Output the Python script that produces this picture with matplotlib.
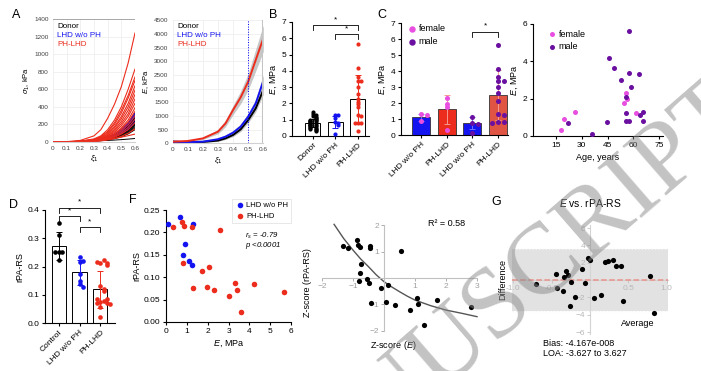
import matplotlib

matplotlib.use("Agg")
import matplotlib.pyplot as plt
import numpy as np

plt.rcParams["font.family"] = ["Liberation Sans", "DejaVu Sans"]
plt.rcParams["mathtext.fontset"] = "custom"
plt.rcParams["mathtext.rm"] = "Liberation Sans"
plt.rcParams["mathtext.it"] = "Liberation Sans:italic"
plt.rcParams["mathtext.bf"] = "Liberation Sans:bold"

W, H = 701, 371

BLUE = "#1414f0"
RED = "#ec2c1c"
PINK = "#e84ee0"
PURPLE = "#6a0fa0"

# ---- panel A: stress / modulus vs strain ----
STRAIN = [0, 0.1, 0.2, 0.3, 0.35, 0.4, 0.45, 0.5, 0.55, 0.6]
STRESS_RED = [
    [0, 4, 18, 70, 140, 270, 430, 630, 900, 1240],
    [0, 2, 10, 35, 70, 140, 250, 400, 600, 830],
    [0, 2, 8, 30, 60, 120, 220, 360, 530, 740],
    [0, 2, 8, 28, 55, 110, 200, 330, 500, 700],
    [0, 2, 7, 25, 48, 95, 175, 290, 440, 640],
    [0, 2, 6, 22, 42, 85, 160, 265, 400, 590],
    [0, 1, 6, 20, 38, 75, 140, 235, 360, 540],
    [0, 1, 5, 18, 34, 68, 125, 210, 320, 490],
    [0, 1, 5, 16, 30, 60, 110, 185, 290, 440],
    [0, 1, 4, 14, 27, 52, 95, 160, 250, 390],
    [0, 1, 4, 13, 24, 46, 85, 145, 225, 350],
    [0, 1, 3, 11, 20, 40, 72, 125, 195, 300],
    [0, 1, 3, 10, 18, 34, 62, 105, 165, 260],
    [0, 1, 3, 9, 16, 30, 52, 90, 140, 220],
    [0, 1, 3, 8, 13, 24, 40, 65, 100, 150],
    [0, 2, 6, 14, 20, 28, 40, 55, 72, 90],
]
STRESS_BLACK = [
    [0, 2, 8, 22, 35, 56, 90, 140, 215, 330],
    [0, 2, 8, 21, 33, 53, 85, 132, 202, 310],
    [0, 2, 7, 20, 32, 51, 82, 128, 195, 300],
    [0, 2, 7, 19, 31, 49, 79, 124, 189, 290],
    [0, 2, 7, 19, 30, 48, 77, 120, 182, 280],
    [0, 2, 7, 18, 29, 46, 74, 116, 176, 270],
    [0, 2, 7, 18, 28, 44, 71, 111, 169, 260],
    [0, 2, 6, 17, 27, 43, 69, 107, 163, 250],
    [0, 2, 6, 17, 26, 41, 66, 103, 157, 240],
    [0, 2, 6, 16, 25, 39, 63, 98, 150, 230],
    [0, 2, 6, 15, 24, 37, 60, 94, 144, 220],
    [0, 2, 6, 15, 23, 36, 57, 90, 137, 210],
    [0, 2, 6, 14, 22, 34, 55, 86, 131, 200],
    [0, 2, 5, 14, 21, 33, 52, 82, 125, 190],
    [0, 2, 5, 13, 19, 30, 48, 75, 115, 175],
    [0, 2, 5, 12, 18, 28, 44, 69, 105, 160],
    [0, 2, 5, 11, 16, 25, 38, 60, 92, 140],
    [0, 3, 7, 12, 15, 18, 22, 27, 33, 40],
]
STRESS_BLUE = [
    [0, 2, 8, 22, 36, 58, 92, 142, 218, 330],
    [0, 2, 8, 21, 34, 55, 87, 134, 205, 310],
    [0, 2, 7, 20, 32, 51, 81, 125, 192, 290],
    [0, 2, 7, 18, 28, 45, 71, 110, 167, 250],
    [0, 2, 6, 16, 25, 40, 63, 97, 147, 220],
]
MOD_RED = [60, 85, 180, 427, 730, 1220, 1680, 2256, 3050, 3840]
MOD_RED_HW = [20, 20, 40, 80, 120, 170, 230, 300, 400, 480]
MOD_BLUE = [60, 40, 60, 150, 245, 390, 610, 975, 1460, 2280]
MOD_BLUE_HW = [15, 15, 20, 40, 60, 80, 100, 130, 170, 220]
MOD_BLACK = [60, 40, 50, 100, 180, 305, 510, 850, 1280, 1950]
MOD_BLACK_HW = [15, 15, 20, 30, 40, 60, 80, 100, 130, 170]

# ---- panel B ----
B_GROUPS = ["Donor", "LHD w/o PH", "PH-LHD"]
B_MEAN = [0.8, 0.85, 2.3]
B_SD = [0.25, 0.38, 1.42]
E_DONOR = [1.45, 1.35, 1.3, 1.2, 1.15, 1.1, 1.05, 1.0, 1.0, 0.95, 0.9, 0.9, 0.85, 0.8,
           0.8, 0.75, 0.7, 0.7, 0.65, 0.6, 0.6, 0.55, 0.5, 0.5, 0.45, 0.4, 0.35, 0.3]
E_LHD_F = [1.3, 1.28, 0.85]
E_LHD_M = [1.1, 0.77, 0.69, 0.1]
E_PH_F = [2.3, 1.95, 1.75, 0.3]
E_PH_M = [5.65, 4.15, 3.65, 3.38, 3.35, 3.0, 2.6, 2.1, 1.3, 1.25, 0.82, 0.8, 0.78]

# ---- panel C ----
C_GROUPS = ["LHD w/o PH", "PH-LHD", "LHD w/o PH", "PH-LHD"]
C_MEAN = [1.1, 1.6, 0.75, 2.5]
C_SD = [0.22, 0.9, 0.4, 1.55]

# ---- age scatter ----
AGE_F = [17.7, 19.8, 25.9, 54.6, 55.6, 56.5, 61.6]
AGE_F_E = [0.32, 0.89, 1.29, 1.75, 2.32, 1.96, 1.21]
AGE_M = [22.2, 36.2, 44.6, 45.6, 48.5, 52.6, 55.6, 55.6, 55.6, 57.6, 57.6, 57.6, 58.7,
         63.5, 63.9, 65.9, 65.9]
AGE_M_E = [0.71, 0.11, 0.77, 4.18, 3.63, 3.02, 2.07, 1.25, 0.82, 5.64, 3.39, 0.82, 2.61,
           3.32, 1.13, 1.30, 0.82]

# ---- panel D ----
D_GROUPS = ["Control", "LHD w/o PH", "PH-LHD"]
D_MEAN = [0.274, 0.18, 0.12]
D_SD = [0.05, 0.045, 0.065]
RPA_CONTROL = [0.355, 0.31, 0.25, 0.25, 0.25, 0.222]

# ---- panel F ----
F_BLUE_E = [0.11, 0.67, 1.28, 0.91, 0.80, 1.12, 1.23]
F_BLUE_R = [0.218, 0.234, 0.219, 0.174, 0.150, 0.137, 0.128]
F_RED_E = [0.35, 0.75, 0.87, 1.25, 0.80, 2.6, 2.08, 1.75, 1.31, 1.96, 2.32, 3.01, 3.32,
           3.40, 3.61, 4.20, 5.64]
F_RED_R = [0.213, 0.223, 0.215, 0.213, 0.131, 0.205, 0.122, 0.113, 0.076, 0.078, 0.072,
           0.059, 0.087, 0.072, 0.022, 0.085, 0.067]

# ---- z-score panel ----
Z_X = [-1.31, -1.15, -0.88, -0.83, -0.77, -0.75, -0.78, -0.81, -0.54, -0.48, -0.46, -0.45,
       -0.43, -0.11, 0.05, 0.14, 0.34, 0.54, 0.84, 1.08, 1.11, 1.29, 1.72, 2.82]
Z_Y = [1.23, 1.13, 1.44, 1.25, 1.16, 0.53, 0.18, -0.10, -0.04, -0.18, 1.22, 1.13,
       -0.96, -0.39, -0.92, -0.27, -1.03, 1.03, -1.22, -0.77, -1.0, -1.78, -0.84, -1.11]
FIT_X = [-1.61, -1.3, -1.0, -0.75, -0.5, -0.25, 0, 0.25, 0.5, 0.75, 1.0, 1.5, 2.0, 2.5, 3.0]
FIT_Y = [2.04, 1.5, 1.06, 0.72, 0.43, 0.12, -0.14, -0.34, -0.52, -0.69, -0.84, -1.05,
         -1.22, -1.34, -1.47]

# ---- panel G (Bland-Altman) ----
G_AVG = [-0.70, -0.44, -0.43, -0.35, -0.34, -0.31, -0.29, -0.25, -0.26, -0.19, -0.10, -0.06,
         -0.03, 0.0, 0.05, 0.14, 0.20, 0.23, 0.30, 0.34, 0.40, 0.43, 0.78, 0.83]
G_DIFF = [-0.5, 0.65, -0.92, -1.27, 0.35, 1.04, 0.54, -0.23, -3.04, -2.0, 1.31, -0.35,
          2.58, 2.35, -2.04, -1.77, 2.04, 2.15, 2.35, 1.65, 1.65, -2.46, 0.5, -3.81]
G_BIAS = -4.167e-8
G_LOA = 3.627


def rect(left, top, right, bottom):
    return [left / W, 1 - bottom / H, (right - left) / W, (bottom - top) / H]


def swarm(values, spacing, tol):
    offsets = []
    for i, v in enumerate(values):
        n = sum(1 for p in values[:i] if abs(p - v) < tol)
        k = (n + 1) // 2
        offsets.append(0 if n == 0 else (1 if n % 2 else -1) * k * spacing)
    return np.array(offsets)


def prism_axis(ax, size=6):
    for side in ["top", "right"]:
        ax.spines[side].set_visible(False)
    for side in ["left", "bottom"]:
        ax.spines[side].set_linewidth(0.8)
    ax.tick_params(labelsize=size, length=2.5, width=0.8, pad=1.5)


def bracket(ax, x0, x1, y, leg, star_y, size=6):
    ax.plot([x0, x0, x1, x1], [y - leg, y, y, y - leg], color="black", lw=0.6, clip_on=False)
    ax.text((x0 + x1) / 2, star_y, "*", ha="center", va="center", fontsize=size, clip_on=False)


def excel_axis(ax):
    for side in ["top", "right", "left"]:
        ax.spines[side].set_visible(False)
    ax.spines["bottom"].set_color("#d0d0d0")
    ax.grid(True, color="#ececec", lw=0.5)
    ax.set_axisbelow(True)
    ax.tick_params(length=0, labelsize=4.6, pad=3, colors="#404040")


def fig_text(x_px, y_px, s, **kw):
    return fig.text(x_px / W, 1 - y_px / H, s, **kw)


fig = plt.figure(figsize=(W / 100, H / 100), dpi=100)

# panel A left
ax = fig.add_axes(rect(53, 19, 135, 142))
for curve in STRESS_BLACK:
    ax.plot(STRAIN, curve, color="black", lw=0.7)
for curve in STRESS_BLUE:
    ax.plot(STRAIN, curve, color=BLUE, lw=0.7)
for curve in STRESS_RED:
    ax.plot(STRAIN, curve, color=RED, lw=0.8)
ax.axhline(1400, color="#a8a8a8", lw=1.4)
ax.set_xlim(0, 0.6)
ax.set_ylim(0, 1400)
ax.set_xticks(np.arange(0, 0.61, 0.1))
ax.set_xticklabels(["0", "0.1", "0.2", "0.3", "0.4", "0.5", "0.6"])
ax.set_yticks(range(0, 1401, 200))
excel_axis(ax)
ax.set_ylabel(r"$\sigma_1$, kPa", fontsize=5.5, labelpad=2)
ax.set_xlabel(r"$\xi_1$", fontsize=6, labelpad=2)
for i, (txt, col) in enumerate([("Donor", "black"), ("LHD w/o PH", BLUE), ("PH-LHD", RED)]):
    ax.text(0.05, 0.94 - i * 0.075, txt, color=col, fontsize=5.8, transform=ax.transAxes,
            va="center")
fig_text(16, 15, "A", fontsize=9, va="center", ha="center")

# panel A right
ax = fig.add_axes(rect(172.7, 20.3, 263.3, 143.3))
for mean, hw, col in [(MOD_BLACK, MOD_BLACK_HW, "black"), (MOD_BLUE, MOD_BLUE_HW, BLUE),
                      (MOD_RED, MOD_RED_HW, RED)]:
    mean = np.array(mean)
    hw = np.array(hw)
    ax.fill_between(STRAIN, mean - hw, mean + hw, color="#9a9a9a", alpha=0.55, lw=0)
    ax.plot(STRAIN, mean, color=col, lw=1.4)
ax.axvline(0.5, color="blue", ls=":", lw=0.7)
ax.axvline(0.6, color="#c4c4c4", lw=2.2)
ax.set_xlim(0, 0.6)
ax.set_ylim(0, 4500)
ax.set_xticks(np.arange(0, 0.61, 0.1))
ax.set_xticklabels(["0", "0.1", "0.2", "0.3", "0.4", "0.5", "0.6"])
ax.set_yticks(range(0, 4501, 500))
excel_axis(ax)
ax.set_ylabel(r"$E$, kPa", fontsize=5.5, labelpad=2)
ax.set_xlabel(r"$\xi_1$", fontsize=6, labelpad=2)
for i, (txt, col) in enumerate([("Donor", "black"), ("LHD w/o PH", BLUE), ("PH-LHD", RED)]):
    ax.text(0.05, 0.95 - i * 0.075, txt, color=col, fontsize=5.8, transform=ax.transAxes,
            va="center")

# panel B
ax = fig.add_axes(rect(292, 22, 368.5, 136))
b_points = [E_DONOR, E_LHD_F + E_LHD_M, E_PH_F + E_PH_M]
b_cols = ["black", BLUE, RED]
ax.bar(range(3), B_MEAN, width=0.67, color="white", edgecolor="black", lw=0.7, zorder=1)
for i, (vals, col) in enumerate(zip(b_points, b_cols)):
    ax.errorbar(i, B_MEAN[i], yerr=B_SD[i], color=col, lw=0.7, capsize=2, capthick=0.7,
                zorder=2)
    ax.scatter(i + swarm(vals, 0.12, 0.09), vals, s=9, color=col, zorder=3, lw=0)
bracket(ax, 0, 2, 6.81, 0.3, 7.15)
bracket(ax, 1, 2, 6.24, 0.3, 6.55)
ax.set_xlim(-0.93, 2.47)
ax.set_ylim(0, 7)
ax.set_yticks(range(8))
ax.set_xticks(range(3))
ax.set_xticklabels(B_GROUPS, rotation=45, ha="right", rotation_mode="anchor")
prism_axis(ax)
ax.set_ylabel(r"$E$, MPa", fontsize=6.5, labelpad=2)
fig_text(273, 15, "B", fontsize=9, va="center", ha="center")

# panel C
ax = fig.add_axes(rect(401, 23, 508, 135))
c_cols = [BLUE, RED, BLUE, "#e05444"]
c_err = ["#7070ff", "#f59a90", "#7070ff", "#f59a90"]
ax.bar(range(4), C_MEAN, width=0.7, color=c_cols, edgecolor="#333333", lw=0.6, zorder=1)
for i in range(4):
    ax.errorbar(i, C_MEAN[i], yerr=C_SD[i], color=c_err[i], lw=0.7, capsize=2,
                capthick=0.7, zorder=2)
for i, (vals, col) in enumerate([(E_LHD_F, PINK), (E_PH_F, PINK), (E_LHD_M, PURPLE),
                                 (E_PH_M, PURPLE)]):
    ax.scatter(i + swarm(vals, 0.22, 0.15), vals, s=13, color=col, zorder=3, lw=0)
bracket(ax, 2, 3, 6.42, 0.3, 6.8)
ax.set_xlim(-0.78, 3.39)
ax.set_ylim(0, 7)
ax.set_yticks(range(8))
ax.set_xticks(range(4))
ax.set_xticklabels(C_GROUPS, rotation=45, ha="right", rotation_mode="anchor")
prism_axis(ax)
ax.set_ylabel(r"$E$, MPa", fontsize=6.5, labelpad=2)
ax.scatter([], [], s=13, color=PINK, label="female")
ax.scatter([], [], s=13, color=PURPLE, label="male")
ax.legend(loc="upper left", bbox_to_anchor=(0.02, 1.02), frameon=False, fontsize=6.5,
          handletextpad=0.1, borderaxespad=0, labelspacing=0.4, handlelength=1.2)
fig_text(382, 15, "C", fontsize=9, va="center", ha="center")

# age scatter
ax = fig.add_axes(rect(533, 24, 663, 136))
ax.scatter(AGE_F, AGE_F_E, s=13, color=PINK, lw=0, label="female", zorder=3)
ax.scatter(AGE_M, AGE_M_E, s=13, color=PURPLE, lw=0, label="male", zorder=3)
ax.set_xlim(1.6, 77.3)
ax.set_ylim(0, 6)
ax.set_xticks([15, 30, 45, 60, 75])
ax.set_yticks([0, 2, 4, 6])
prism_axis(ax)
ax.set_xlabel("Age, years", fontsize=6.5, labelpad=3)
ax.set_ylabel(r"$E$, MPa", fontsize=6.5, labelpad=2)
ax.legend(loc="upper left", bbox_to_anchor=(0.08, 0.98), frameon=False, fontsize=6.5,
          handletextpad=0.1, borderaxespad=0, labelspacing=0.4, handlelength=1.2)

# panel D
ax = fig.add_axes(rect(45, 210, 115, 323.3))
d_points = [RPA_CONTROL, F_BLUE_R, F_RED_R]
ax.bar(range(3), D_MEAN, width=0.69, color="white", edgecolor="black", lw=0.7, zorder=1)
for i, (vals, col) in enumerate(zip(d_points, ["black", BLUE, RED])):
    ax.errorbar(i, D_MEAN[i], yerr=D_SD[i], color=col, lw=0.7, capsize=2, capthick=0.7,
                zorder=2)
    ax.scatter(i + swarm(vals, 0.16, 0.012), vals, s=11, color=col, zorder=3, lw=0)
bracket(ax, 0, 2, 0.406, 0.017, 0.428)
bracket(ax, 0, 1, 0.379, 0.018, 0.396)
bracket(ax, 1, 2, 0.341, 0.018, 0.359)
ax.set_xlim(-0.665, 2.71)
ax.set_ylim(0, 0.4)
ax.set_yticks([0, 0.1, 0.2, 0.3, 0.4])
ax.set_yticklabels(["0.0", "0.1", "0.2", "0.3", "0.4"])
ax.set_xticks(range(3))
ax.set_xticklabels(D_GROUPS, rotation=45, ha="right", rotation_mode="anchor")
prism_axis(ax)
ax.set_ylabel("rPA-RS", fontsize=6.5, labelpad=2)
fig_text(13, 205, "D", fontsize=9, va="center", ha="center")

# panel F
ax = fig.add_axes(rect(166, 210, 291, 322))
ax.scatter(F_BLUE_E, F_BLUE_R, s=16, color=BLUE, lw=0, label="LHD w/o PH", zorder=3)
ax.scatter(F_RED_E, F_RED_R, s=16, color=RED, lw=0, label="PH-LHD", zorder=3)
ax.set_xlim(0, 6)
ax.set_ylim(0, 0.25)
ax.set_xticks(range(7))
ax.set_yticks([0, 0.05, 0.10, 0.15, 0.20, 0.25])
ax.set_yticklabels(["0.00", "0.05", "0.10", "0.15", "0.20", "0.25"])
prism_axis(ax)
ax.set_xlabel(r"$E$, MPa", fontsize=6.5, labelpad=3)
ax.set_ylabel("rPA-RS", fontsize=6.5, labelpad=2)
leg = ax.legend(loc="upper right", bbox_to_anchor=(1.0, 1.1), fontsize=5.5, frameon=True,
                handletextpad=0.2, borderaxespad=0, labelspacing=0.4, handlelength=1.2,
                fancybox=False, borderpad=0.4)
leg.get_frame().set_edgecolor("#dddddd")
leg.get_frame().set_linewidth(0.6)
ax.text(3.8, 0.187, r"$r_s$ = -0.79", fontsize=5.6, style="italic")
ax.text(3.8, 0.167, r"$p$ <0.0001", fontsize=5.6, style="italic")
fig_text(133, 200, "F", fontsize=9, va="center", ha="center")

# z-score panel
ax = fig.add_axes(rect(318.9, 217.5, 480.1, 338.5))
ax.plot(FIT_X, FIT_Y, color="#555555", lw=1.0, zorder=2)
ax.scatter(Z_X, Z_Y, s=14, color="black", lw=0, zorder=3)
ax.set_xlim(-2.1, 3.1)
ax.set_ylim(-2.3, 2.3)
for side in ["top", "right"]:
    ax.spines[side].set_visible(False)
ax.spines["left"].set_position("zero")
ax.spines["bottom"].set_position("zero")
ax.spines["left"].set_bounds(-2, 2)
ax.spines["bottom"].set_bounds(-2, 3)
for side in ["left", "bottom"]:
    ax.spines[side].set_color("#c0c0c0")
    ax.spines[side].set_linewidth(0.8)
ax.set_xticks([-2, -1, 1, 2, 3])
ax.set_yticks([-2, -1, 1, 2])
ax.tick_params(labelsize=6, colors="#a0a0a0", length=2, width=0.6, pad=1.5)
fig_text(447, 223, "R² = 0.58", fontsize=6.5, ha="center", va="center")
fig_text(393, 345, r"Z-score ($E$)", fontsize=6.5, ha="center", va="center")
fig_text(308, 283, "Z-score (rPA-RS)", fontsize=6.5, ha="center", va="center", rotation=90)

# panel G
ax = fig.add_axes(rect(511.8, 225.4, 668.2, 333.8))
ax.fill_between([-1.02, 1.02], -G_LOA, G_LOA, color="#e2e2e2", lw=0, zorder=0)
ax.hlines([-G_LOA, G_LOA], -1.02, 1.02, color="#f4f4f4", ls=":", lw=0.9, zorder=1)
ax.hlines(G_BIAS, -1.02, 1.02, color="#e8928a", ls="--", lw=1.1, zorder=2)
ax.scatter(G_AVG, G_DIFF, s=14, color="black", lw=0, zorder=4)
ax.set_xlim(-1.02, 1.02)
ax.set_ylim(-6.2, 6.3)
for side in ["top", "right"]:
    ax.spines[side].set_visible(False)
ax.spines["left"].set_position("zero")
ax.spines["bottom"].set_position("zero")
for side in ["left", "bottom"]:
    ax.spines[side].set_color("#d4d4d4")
    ax.spines[side].set_linewidth(0.8)
    ax.spines[side].set_zorder(1)
ax.set_xticks([-1.0, -0.5, 0.5, 1.0])
ax.set_xticklabels(["-1.0", "-0.5", "0.5", "1.0"])
ax.set_yticks([-6, -4, -2, 2, 4, 6])
ax.tick_params(labelsize=6, colors="#c4c4c4", length=2, width=0.6, pad=1.5)
for lab in ax.get_xticklabels() + ax.get_yticklabels():
    lab.set_color("#b8b8b8")
ax.set_title(r"$E$ vs. rPA-RS", fontsize=7.5, pad=0, y=1.17)
fig_text(503, 280, "Difference", fontsize=6.5, ha="center", va="center", rotation=90)
fig_text(638, 324, "Average", fontsize=6.5, ha="center", va="center")
fig_text(543, 344, f"Bias: {G_BIAS:.3e}".replace("e-08", "e-008"), fontsize=6.5,
         va="center")
fig_text(543, 354, f"LOA: -{G_LOA:.3f} to {G_LOA:.3f}", fontsize=6.5, va="center")
fig_text(496, 202, "G", fontsize=9, va="center", ha="center")

# watermark of the accepted manuscript
fig_text(507, 333, "MANUSCRIPT", rotation=41, rotation_mode="anchor", fontsize=73,
         family=["Liberation Serif", "DejaVu Serif"], color="#888888", alpha=0.5,
         ha="center", va="baseline", zorder=100)

fig.savefig("out.png", dpi=100)
